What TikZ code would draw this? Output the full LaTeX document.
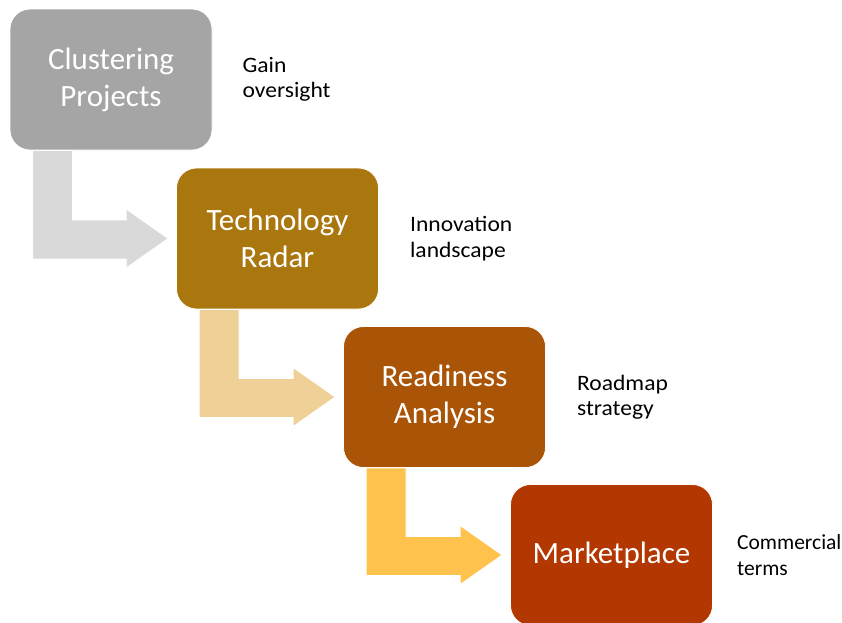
\documentclass[tikz,border=0pt]{standalone}
\usepackage{fontspec}
\setmainfont{Carlito}
\newfontfamily\labelfont[FakeStretch=1.07]{Carlito}
\usetikzlibrary{calc,positioning}
\definecolor{c1}{HTML}{A5A5A5}
\definecolor{c2}{HTML}{AA770F}
\definecolor{c3}{HTML}{A95406}
\definecolor{c4}{HTML}{B33700}
\definecolor{a1}{HTML}{D9D9D9}
\definecolor{a2}{HTML}{EFD096}
\definecolor{a3}{HTML}{FFC24D}
\tikzset{
  stepbox/.style={draw=white, line width=0.8pt, rounded corners=20pt,
    minimum width=202pt, minimum height=141pt, inner sep=0pt,
    text=white, align=center, font=\fontsize{31}{37}\selectfont},
  sidelabel/.style={anchor=west, align=left, inner sep=0pt,
    text=black, font=\labelfont\fontsize{22}{25.5}\selectfont},
  narrowlabel/.style={sidelabel, font=\fontsize{21.5}{25.5}\selectfont},
  arrowshape/.style={draw=white, line width=0.8pt}
}
\newcommand{\bentarrow}[3]{%
  \path[arrowshape, fill=#3] let \p1=(#1.south west), \p2=(#2.west) in
    (\x1+23pt,\y1) -- (\x1+63pt,\y1) -- (\x1+63pt,\y2+18.5pt)
    -- (\x2-50pt,\y2+18.5pt) -- (\x2-50pt,\y2+29.5pt) -- (\x2-8pt,\y2)
    -- (\x2-50pt,\y2-29.5pt) -- (\x2-50pt,\y2-20.5pt)
    -- (\x1+23pt,\y2-20.5pt) -- cycle;}
\begin{document}
\begin{tikzpicture}[x=1pt,y=-1pt]
\useasboundingbox (0,0) rectangle (842,622);
\node[stepbox, fill=c1] (b1) at (111,79.5) {Clustering\\Projects};
\node[stepbox, fill=c2] (b2) at (277.5,238.5) {Technology\\Radar};
\node[stepbox, fill=c3] (b3) at (444.5,397) {Readiness\\Analysis};
\node[stepbox, fill=c4] (b4) at (611.5,555) {Marketplace};
\bentarrow{b1}{b2}{a1}
\bentarrow{b2}{b3}{a2}
\bentarrow{b3}{b4}{a3}
\node[sidelabel, right=30pt of b1.east] (l1) {Gain\\oversight};
\node[sidelabel, right=31pt of b2.east] (l2) {Innovation\\landscape};
\node[sidelabel, right=31pt of b3.east] (l3) {Roadmap\\strategy};
\node[narrowlabel, right=24pt of b4.east] (l4) {Commercial\\terms};
\end{tikzpicture}
\end{document}
